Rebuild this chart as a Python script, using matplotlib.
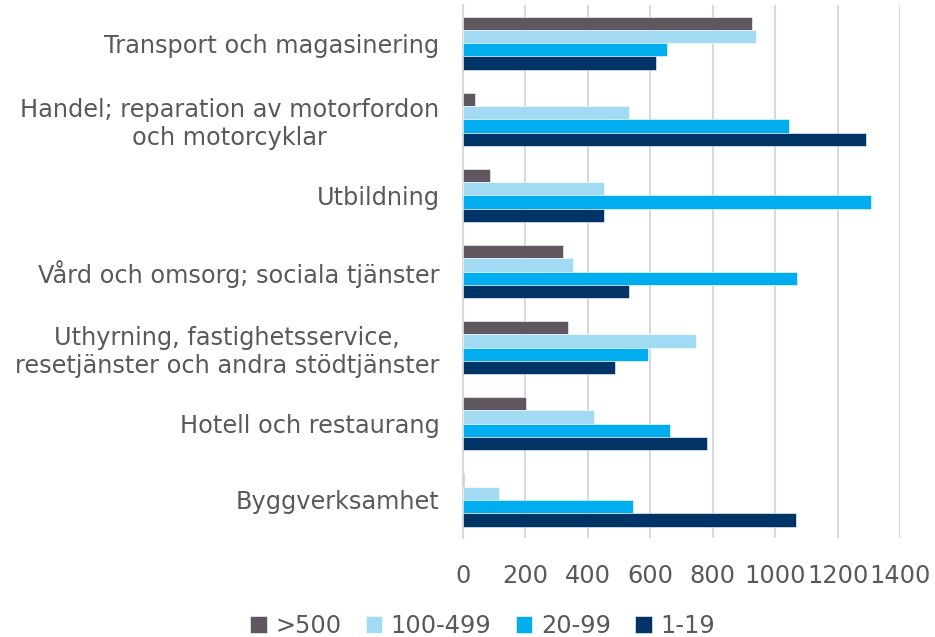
import numpy as np
from matplotlib import pyplot as plt

"""data"""
categories = ['Transport och magasinering',
              'Handel; reparation av motorfordon\noch motorcyklar',
              'Utbildning',
              'Vård och omsorg; sociala tjänster',
              'Uthyrning, fastighetsservice,\nresetjänster och andra stödtjänster',
              'Hotell och restaurang',
              'Byggverksamhet']
series = ['>500', '100-499', '20-99', '1-19']
v_500 = [926, 37, 86, 319, 336, 202, 3]
v_100 = [937, 532, 451, 352, 747, 420, 114]
v_20 = [652, 1044, 1307, 1069, 593, 662, 546]
v_1 = [618, 1292, 452, 531, 487, 781, 1067]
colors = ['#5F5660', '#A3DAF3', '#00AEEF', '#003366']
xticks = [0, 200, 400, 600, 800, 1000, 1200, 1400]

"""plot"""
fig = plt.figure(figsize=(9.35, 6.37), dpi=100)
ax = fig.add_axes([0.4952, 0.1554, 0.4674, 0.8366])

y = np.arange(len(categories))
h = 0.175
for i, (vals, c, lab) in enumerate(zip([v_500, v_100, v_20, v_1], colors, series)):
    ax.barh(y + (i - 1.5) * h, vals, height=h, color=c, label=lab,
            edgecolor='white', linewidth=0.4, zorder=3)

ax.set_ylim(len(categories) - 0.5, -0.5)
ax.set_xlim(0, 1400)
ax.set_xticks(xticks)
ax.set_yticks(y)
ax.set_yticklabels(categories, multialignment='center', linespacing=1.2)

txt = '#595959'
fs = 17.3
ax.tick_params(axis='x', length=0, pad=19, labelsize=fs, labelcolor=txt)
ax.tick_params(axis='y', length=0, pad=17, labelsize=fs, labelcolor=txt)
ax.grid(True, axis='x', color='#D9D9D9', linewidth=1.5, zorder=0)
for s in ['top', 'right', 'bottom']:
    ax.spines[s].set_visible(False)
ax.spines['left'].set_color('#D9D9D9')
ax.spines['left'].set_linewidth(1.5)

fig.legend(loc='center', bbox_to_anchor=(0.516, 0.018), ncol=4, frameon=False,
           fontsize=fs, labelcolor=txt, handlelength=0.7, handleheight=0.7,
           handletextpad=0.35, columnspacing=1.0)

plt.savefig('out.png', dpi=100)
